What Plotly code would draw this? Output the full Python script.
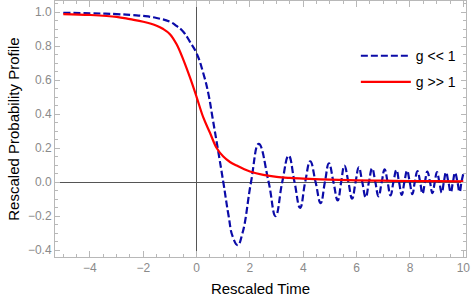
import plotly.graph_objects as go

# ---- data ----
# g << 1 (dashed blue): smooth drop, then chirped oscillation
blue_t = [-5.0, -4.0, -3.0, -2.4, -2.0, -1.5, -1.0, -0.75, -0.5, -0.25, 0.0, 0.25, 0.44, 0.6, 0.8, 1.0, 1.2, 1.35,
          1.54, 1.72, 2.04, 2.33, 2.70, 2.96, 3.21, 3.45, 3.67, 3.88, 4.07, 4.26, 4.46, 4.65, 4.81, 4.96, 5.13,
          5.29, 5.42, 5.54, 5.69, 5.83, 5.96, 6.08, 6.21, 6.34, 6.46, 6.58, 6.70, 6.82, 6.94, 7.05, 7.16, 7.27,
          7.38, 7.49, 7.59, 7.69, 7.79, 7.89, 7.99, 8.09, 8.18, 8.28, 8.38, 8.47, 8.56, 8.65, 8.75, 8.84, 8.93,
          9.01, 9.10, 9.19, 9.27, 9.35, 9.44, 9.53, 9.61, 9.69, 9.78, 9.86, 9.93, 10.0]
blue_v = [0.996, 0.993, 0.988, 0.982, 0.977, 0.965, 0.943, 0.918, 0.884, 0.825, 0.757, 0.64, 0.52, 0.375, 0.19, 0.0,
          -0.2, -0.32, -0.371, -0.3, 0.0, 0.224, 0.0, -0.20, 0.0, 0.155, 0.0, -0.152, 0.0, 0.122, 0.0, -0.124, 0.0,
          0.11, 0.0, -0.108, 0.0, 0.096, 0.0, -0.098, 0.0, 0.087, 0.0, -0.09, 0.0, 0.08, 0.0, -0.084, 0.0, 0.075,
          0.0, -0.079, 0.0, 0.07, 0.0, -0.075, 0.0, 0.067, 0.0, -0.071, 0.0, 0.064, 0.0, -0.068, 0.0, 0.062, 0.0,
          -0.065, 0.0, 0.059, 0.0, -0.062, 0.0, 0.057, 0.0, -0.06, 0.0, 0.055, 0.0, -0.058, 0.0, 0.05]

# g >> 1 (solid red): smooth step with a long tail
red_t = [-5.0, -4.0, -3.0, -2.5, -2.0, -1.5, -1.25, -1.0, -0.75, -0.5, -0.25, 0.0, 0.25, 0.5, 0.75, 1.0, 1.25,
         1.5, 1.75, 2.0, 2.5, 3.0, 3.5, 4.0, 5.0, 6.0, 7.0, 8.0, 9.0, 10.0]
red_v = [0.988, 0.983, 0.972, 0.958, 0.943, 0.92, 0.9, 0.87, 0.81, 0.72, 0.615, 0.5, 0.38, 0.29, 0.2, 0.15,
         0.118, 0.097, 0.078, 0.062, 0.042, 0.03, 0.024, 0.02, 0.014, 0.01, 0.008, 0.006, 0.005, 0.004]

series_names = ["g << 1", "g >> 1"]
x_ticks = [-4, -2, 0, 2, 4, 6, 8, 10]
y_ticks = [-0.4, -0.2, 0.0, 0.2, 0.4, 0.6, 0.8, 1.0]

FONT = "Liberation Sans, Arial, sans-serif"
FRAME = "#b8b8b8"
TICKFONT = dict(family=FONT, size=12, color="#8a8a8a")

fig = go.Figure()
fig.add_trace(go.Scatter(
    x=blue_t, y=blue_v, mode="lines", name=series_names[0], legendgroup="a",
    line=dict(color="#0b0ba8", width=2.2, dash="7px,3px", shape="spline", smoothing=1.3),
))
fig.add_trace(go.Scatter(
    x=red_t, y=red_v, mode="lines", name=series_names[1], legendgroup="b",
    line=dict(color="#ff0000", width=2.2, shape="spline", smoothing=1.0),
))

axis_common = dict(
    showgrid=False, showline=True, linecolor=FRAME, linewidth=1, mirror="ticks",
    ticks="inside", tickcolor=FRAME, tickfont=TICKFONT,
    zeroline=True, zerolinecolor="#555555", zerolinewidth=1, automargin=False,
)

fig.update_xaxes(
    range=[-5.31, 10.1], tickvals=x_ticks, ticklen=6, tickwidth=1,
    minor=dict(dtick=0.5, tick0=0, ticks="inside", ticklen=3, tickcolor=FRAME),
    title=dict(text="Rescaled Time", font=dict(family=FONT, size=15, color="#000000"), standoff=10),
    **axis_common,
)
fig.update_yaxes(
    range=[-0.441, 1.065], tickvals=y_ticks, tickformat=".1f", ticklen=5, tickwidth=1,
    minor=dict(dtick=0.05, tick0=0, ticks="inside", ticklen=3, tickcolor=FRAME),
    title=dict(text="Rescaled Probability Profile", font=dict(family=FONT, size=15, color="#000000"), standoff=4),
    **axis_common,
)

fig.update_layout(
    width=474, height=297,
    margin=dict(l=55, r=8, t=1, b=40),
    plot_bgcolor="white", paper_bgcolor="white",
    showlegend=True,
    legend=dict(
        x=0.732, y=0.847, xanchor="left", yanchor="top",
        bgcolor="rgba(0,0,0,0)", borderwidth=0,
        font=dict(family=FONT, size=14, color="#000000"),
        tracegroupgap=5, itemwidth=50,
    ),
)

fig.write_html("out.html", config={"displayModeBar": False},
               post_script="document.body.style.margin='0px';")
